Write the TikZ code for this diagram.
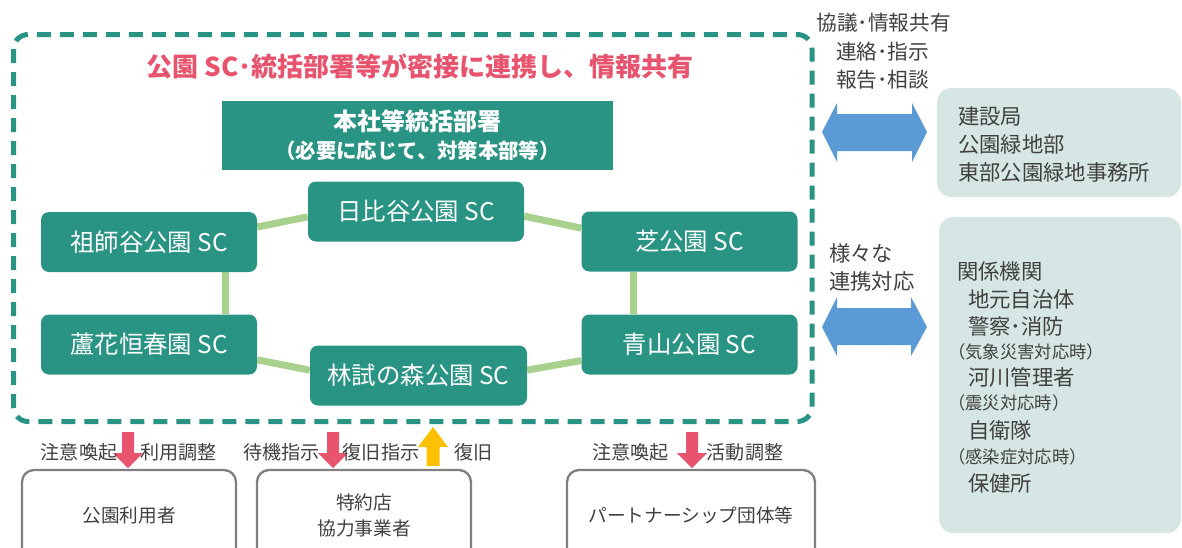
\documentclass[tikz,border=0pt]{standalone}
\usepackage{fontspec}
\setmainfont{Noto Sans CJK JP}
\usetikzlibrary{calc}
\definecolor{teal1}{RGB}{42,148,132}
\definecolor{pinkT}{RGB}{232,84,110}
\definecolor{linkG}{RGB}{169,209,142}
\definecolor{blueA}{RGB}{91,155,213}
\definecolor{yelA}{RGB}{255,192,0}
\definecolor{boxG}{RGB}{214,230,228}
\definecolor{txtG}{RGB}{64,64,64}
\definecolor{brdG}{RGB}{128,128,128}
\pgfdeclarelayer{bg}
\pgfsetlayers{bg,main}
\tikzset{
  scnode/.style={fill=teal1, rounded corners=6pt, minimum width=162pt, minimum height=45pt,
    text=white, font=\fontsize{18.3}{20}\selectfont, inner sep=0pt},
  link/.style={draw=linkG, line width=5.25pt},
  gtxt/.style={text=txtG, inner sep=0pt},
  lbl/.style={gtxt, font=\fontsize{14.3}{16}\selectfont},
  rtxt/.style={gtxt, anchor=west, font=\fontsize{16}{18}\selectfont},
  rsmall/.style={gtxt, anchor=west, font=\fontsize{13}{14}\selectfont},
  rbox/.style={fill=boxG, rounded corners=11pt, inner sep=0pt},
  ubox/.style={draw=brdG, line width=1.75pt, fill=white, rounded corners=9pt, inner sep=0pt,
    minimum height=67.5pt, text=txtG, align=center, font=\fontsize{14}{19.5}\selectfont},
  downarr/.pic={\fill[pinkT] (-6,0) -- (6,0) -- (6,21) -- (15,21) -- (0,36) -- (-15,21) -- (-6,21) -- cycle;},
  uparr/.pic={\fill[yelA] (-6.5,0) -- (6.5,0) -- (6.5,-19) -- (15,-19) -- (0,-39) -- (-15,-19) -- (-6.5,-19) -- cycle;},
}
\begin{document}
\begin{tikzpicture}[x=0.75pt,y=-0.75pt]
\useasboundingbox (0,0) rectangle (1182,547);
\clip (0,0) rectangle (1182,547);

% dashed frame
\draw[teal1, line width=3.75pt, dash pattern=on 10.5pt off 6.75pt, rounded corners=11pt]
  (13.5,34.5) rectangle (812,421.5);

% title
\node[text=pinkT, font=\fontsize{19.5}{22}\selectfont\bfseries, inner sep=0pt] (title) at (420,66)
  {公園 SC･統括部署等が密接に連携し、情報共有};

% HQ box
\node[fill=teal1, minimum width=293.25pt, minimum height=51.75pt, text=white, align=center, inner sep=0pt] (hq) at (417.5,135.5)
  {{\fontsize{18}{20}\selectfont\bfseries 本社等統括部署}\\[5pt]{\fontsize{15.3}{18}\selectfont\bfseries （必要に応じて、対策本部等）}};

% SC nodes
\node[scnode] (hibiya) at (416,211.5) {日比谷公園 SC};
\node[scnode] (soshigaya) at (149,242) {祖師谷公園 SC};
\node[scnode] (shiba) at (689.5,241.5) {芝公園 SC};
\node[scnode] (roka) at (149,344.5) {蘆花恒春園 SC};
\node[scnode] (aoyama) at (689.5,344.5) {青山公園 SC};
\node[scnode, minimum width=162.75pt] (rinshi) at (418.5,375.5) {林試の森公園 SC};

\begin{pgfonlayer}{bg}
\draw[link] ([yshift=11.25pt]soshigaya.east) -- ([yshift=-4pt]hibiya.west);
\draw[link] ([yshift=-3.5pt]hibiya.east) -- ([yshift=10pt]shiba.west);
\draw[link] ([xshift=57pt]soshigaya.south) -- ([xshift=57pt]roka.north);
\draw[link] ([xshift=-42pt]shiba.south) -- ([xshift=-42pt]aoyama.north);
\draw[link] ([yshift=-11.5pt]roka.east) -- ([yshift=4pt]rinshi.west);
\draw[link] ([yshift=4pt]rinshi.east) -- ([yshift=-12pt]aoyama.west);
\end{pgfonlayer}

% right upper labels
\node[gtxt, font=\fontsize{15.5}{18}\selectfont] (t1) at (883.5,23) {協議･情報共有};
\node[gtxt, font=\fontsize{15.5}{18}\selectfont] (t2) at (882.5,52) {連絡･指示};
\node[gtxt, font=\fontsize{15.5}{18}\selectfont] (t3) at (882.5,80) {報告･相談};

% blue double arrows
\fill[blueA] (822,132) -- (837,103) -- (837,114) -- (912,114) -- (912,103) -- (927,132)
  -- (912,162) -- (912,151) -- (837,151) -- (837,162) -- cycle;
\fill[blueA] (822,327) -- (837,297) -- (837,308) -- (911,308) -- (911,297) -- (927,327)
  -- (911,356) -- (911,345) -- (837,345) -- (837,356) -- cycle;

\node[rtxt] (s1) at (829,253) {様々な};
\node[rtxt] (s2) at (829,281) {連携対応};

% right boxes
\node[rbox, minimum width=183pt, minimum height=81.75pt] (kensetsu) at (1059,142.5) {};
\node[rtxt] (k1) at (958,116) {建設局};
\node[rtxt] (k2) at (958,144) {公園緑地部};
\node[rtxt] (k3) at (958,172) {東部公園緑地事務所};

\node[rbox, minimum width=181.5pt, minimum height=237pt] (kankei) at (1060,375) {};
\node[rtxt] (r1) at (957,271.5) {関係機関};
\node[rtxt] (r2) at (968,299) {地元自治体};
\node[rtxt] (r3) at (968,326.5) {警察･消防};
\node[rsmall] (r4) at (948,352) {（気象災害対応時）};
\node[rtxt] (r5) at (968,377) {河川管理者};
\node[rsmall] (r6) at (948,403) {（震災対応時）};
\node[rtxt] (r7) at (968,430) {自衛隊};
\node[rsmall] (r8) at (948,457) {（感染症対応時）};
\node[rtxt] (r9) at (968,483.5) {保健所};

% bottom boxes
\node[ubox, minimum width=160.5pt] (users) at (129,515) {公園利用者};
\node[ubox, minimum width=160.5pt] (shops) at (364,515) {特約店\\協力事業者};
\node[ubox, minimum width=186pt] (partners) at (691,515) {パートナーシップ団体等};

% arrows and labels
\pic at (128,432) {downarr};
\pic at (333,432) {downarr};
\pic at (692,432) {downarr};
\pic at (433,466) {uparr};

\node[lbl] (l1) at (79,452) {注意喚起};
\node[lbl] (l2) at (178.5,452) {利用調整};
\node[lbl] (l3) at (281.5,452) {待機指示};
\node[lbl] (l4) at (381,452) {復旧指示};
\node[lbl] (l5) at (473.5,452) {復旧};
\node[lbl] (l6) at (630.5,452) {注意喚起};
\node[lbl] (l7) at (745,452) {活動調整};
\end{tikzpicture}
\end{document}
